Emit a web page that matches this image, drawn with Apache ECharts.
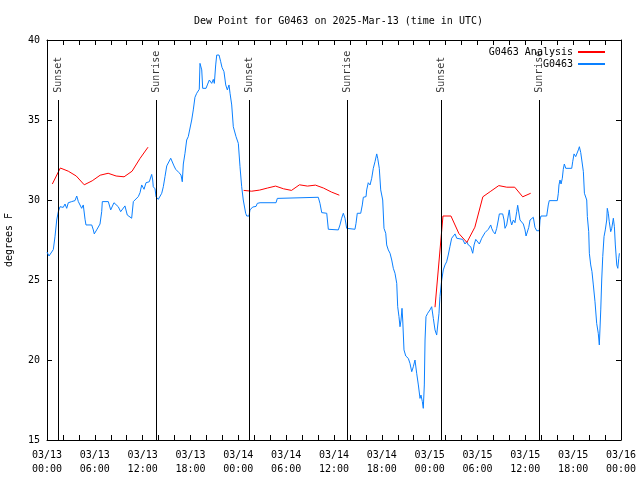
<!DOCTYPE html>
<html><head><meta charset="utf-8">
<script src="https://cdn.jsdelivr.net/npm/echarts@6/dist/echarts.min.js"></script>
<style>html,body{margin:0;padding:0;background:#fff}#c{width:640px;height:480px}</style>
</head><body><div id="c"></div>
<script>
const chartTitle = 'Dew Point for G0463 on 2025-Mar-13 (time in UTC)';
const yAxisName = 'degrees F';
const xTickLabels = ['03/13\n00:00','03/13\n06:00','03/13\n12:00','03/13\n18:00','03/14\n00:00','03/14\n06:00','03/14\n12:00','03/14\n18:00','03/15\n00:00','03/15\n06:00','03/15\n12:00','03/15\n18:00','03/16\n00:00'];
const seriesNames = ['G0463 Analysis', 'G0463'];

// hours since 03/13 00:00 UTC
const obsHours = [0.00,0.25,0.50,0.79,1.00,1.22,1.42,1.63,1.84,2.04,2.26,2.47,2.67,3.10,3.51,3.73,3.93,4.35,4.55,4.77,4.89,5.61,5.81,5.93,6.23,6.65,6.86,6.94,7.69,7.99,8.40,8.94,9.24,9.78,10.07,10.62,10.83,11.45,11.67,11.88,12.17,12.42,12.83,12.92,13.13,13.26,13.33,13.55,13.68,13.96,14.17,14.39,14.59,14.80,15.02,15.22,15.52,15.77,15.93,16.14,16.34,16.56,16.81,16.97,17.10,17.31,17.52,17.72,17.94,18.15,18.35,18.56,18.78,19.10,19.19,19.41,19.53,19.95,20.11,20.36,20.66,20.86,20.99,21.16,21.29,21.58,21.79,21.95,22.20,22.42,22.62,22.83,22.96,23.17,23.37,23.58,23.71,23.87,24.00,24.21,24.42,24.62,24.92,25.05,25.34,25.46,25.80,26.22,26.38,26.72,28.73,28.89,29.14,34.03,34.24,34.46,35.09,35.29,36.54,36.75,36.96,37.17,37.38,37.59,37.67,38.63,38.76,38.92,39.35,39.55,39.68,40.02,40.10,40.30,40.52,40.73,40.93,41.14,41.36,41.48,41.68,41.86,42.11,42.27,42.49,42.61,42.81,43.03,43.24,43.44,43.65,43.87,43.99,44.15,44.28,44.41,44.53,44.62,44.78,45.00,45.32,45.53,45.75,45.95,46.16,46.37,46.58,46.79,46.91,47.08,47.20,47.33,47.42,47.54,47.75,48.04,48.25,48.46,48.67,48.88,49.00,49.17,49.29,49.51,49.71,49.92,50.13,50.33,50.54,50.76,50.97,51.18,51.39,51.59,52.14,52.43,52.65,52.85,53.15,53.40,53.57,53.78,53.98,54.23,54.53,54.73,54.94,55.16,55.36,55.66,55.78,55.98,56.20,56.41,56.61,56.74,57.16,57.33,57.45,57.66,57.87,57.99,58.12,58.29,58.50,58.70,58.92,59.04,59.21,59.33,59.55,59.75,59.96,60.09,60.25,60.43,60.59,60.80,61.00,61.21,61.43,61.75,61.84,61.96,62.68,62.88,63.00,64.01,64.14,64.22,64.35,64.48,64.64,64.76,64.89,65.07,65.82,65.94,66.11,66.32,66.52,66.65,66.78,66.95,67.08,67.28,67.41,67.70,67.78,67.95,68.03,68.20,68.36,68.53,68.74,68.95,69.15,69.28,69.46,69.58,69.71,69.87,70.03,70.21,70.28,70.41,70.53,70.71,70.84,71.04,71.17,71.29,71.47,71.60,71.72,71.80];
const obsDewpoint = [26.75,26.5,26.4,26.9,27.7,28.75,29.27,29.58,29.63,29.54,29.75,29.48,29.83,29.9,29.96,30.25,29.9,29.48,29.69,28.8,28.44,28.44,28.13,27.88,28.13,28.5,29.27,29.9,29.9,29.38,29.83,29.58,29.27,29.63,29.06,28.86,29.9,30.21,30.46,30.94,30.67,31.08,31.14,31.25,31.6,31.25,30.83,30.7,30.2,30.04,30.04,30.42,30.83,31.46,32.13,32.25,32.61,32.61,32.13,31.92,31.98,31.71,31.56,31.14,32.25,32.92,33.75,33.96,34.06,35.0,35.63,36.42,36.67,36.92,38.54,38.13,36.98,36.98,37.19,37.5,37.29,37.54,37.29,38.44,39.06,39.06,38.64,38.29,38.02,37.19,36.88,37.19,36.67,35.94,34.58,34.54,33.96,34.06,33.54,32.08,30.83,30.0,29.17,29.0,29.0,29.38,29.56,29.6,29.79,29.83,29.83,30.1,30.17,30.17,29.79,29.21,29.17,28.17,28.13,28.44,28.86,29.17,28.86,28.23,28.17,28.17,28.54,29.17,29.17,29.69,30.17,30.21,30.63,31.08,30.94,31.36,31.98,32.39,32.88,32.61,31.98,30.63,30.0,28.23,27.92,27.19,26.88,26.67,26.25,25.73,25.42,24.79,23.33,22.71,22.08,22.5,23.23,22.5,20.63,20.25,20.1,19.79,19.27,19.58,20.0,19.17,18.44,17.6,17.81,17.4,16.98,18.44,21.25,22.71,22.92,23.13,23.33,22.6,21.88,21.56,21.67,22.92,23.96,25.0,25.63,25.94,26.14,26.56,27.08,27.61,27.71,27.88,27.61,27.54,27.54,27.25,27.39,27.19,27.08,26.67,27.19,27.54,27.5,27.25,27.61,27.71,27.96,27.96,28.17,28.44,28.23,28.02,27.88,28.23,28.75,29.13,29.13,28.75,28.23,28.44,29.06,29.38,28.75,28.44,28.75,28.58,29.27,29.67,29.63,28.75,28.75,28.5,28.13,27.75,27.75,28.29,28.75,28.75,28.92,28.29,28.08,28.08,28.75,29.0,29.0,29.69,29.96,29.96,30.42,30.94,31.25,31.0,31.36,31.92,32.25,31.98,31.98,32.39,32.88,32.71,32.81,33.13,33.33,32.96,32.5,31.77,30.42,30.0,28.96,28.02,26.67,25.94,25.52,24.69,23.64,22.29,21.67,20.94,23.13,25.0,26.46,27.71,28.13,28.75,29.48,29.17,28.64,28.02,28.23,28.86,28.33,27.19,25.94,25.73,26.36,26.67];

const anaHours1 = [0.67,1.67,2.67,3.67,4.67,5.67,6.67,7.67,8.67,9.67,10.67,11.67,12.67];
const anaVals1  = [31.0,32.0,31.8,31.5,30.95,31.2,31.55,31.67,31.5,31.45,31.8,32.6,33.3];
const anaHours2 = [24.67,25.67,26.67,27.67,28.67,29.67,30.67,31.67,32.67,33.67,34.67,35.67,36.67];
const anaVals2  = [30.6,30.55,30.62,30.75,30.87,30.7,30.6,30.95,30.87,30.93,30.75,30.5,30.3];
const anaHours3 = [48.67,49.67,50.67,51.67,52.67,53.67,54.67,55.67,56.67,57.67,58.67,59.67,60.67];
const anaVals3  = [23.3,29.0,29.0,27.9,27.35,28.3,30.2,30.55,30.9,30.8,30.8,30.2,30.42];

const sunHours = [1.42,13.76,25.38,37.67,49.51,61.76];
const sunNames = ['Sunset','Sunrise','Sunset','Sunrise','Sunset','Sunrise'];
const sunLineTop = 36.25;
const sunLabelBase = 36.7;

const FONT = 'DejaVu Sans Mono';

const obsData = obsHours.map((h, i) => [h, obsDewpoint[i]]);
const anaData = [];
[[anaHours1, anaVals1], [anaHours2, anaVals2], [anaHours3, anaVals3]].forEach(([hs, vs], k) => {
  if (k > 0) anaData.push([hs[0] - 0.5, null]);
  hs.forEach((h, i) => anaData.push([h, vs[i]]));
});

const axisLineStyle = {show: true, onZero: false, lineStyle: {color: '#000', width: 1}};
const tickStyle = {show: true, inside: true, length: 5, lineStyle: {color: '#000', width: 1}};
const minorStyle = {show: true, splitNumber: 3, length: 5, lineStyle: {color: '#000', width: 1}};

const chart = echarts.init(document.getElementById('c'), null, {renderer: 'canvas'});
chart.setOption({
  animation: false,
  backgroundColor: '#fff',
  title: {text: chartTitle, left: 189, top: 11, textStyle: {fontFamily: FONT, fontSize: 10, fontWeight: 'normal', color: '#000'}},
  legend: {
    data: seriesNames, orient: 'vertical', right: 30, top: 42, align: 'right',
    itemWidth: 27, itemHeight: 2, itemGap: 2, icon: 'rect', selectedMode: false,
    textStyle: {fontFamily: FONT, fontSize: 10, color: '#000'}
  },
  grid: {left: 47, right: 19, top: 40, bottom: 40, show: false, containLabel: false, outerBoundsMode: 'none'},
  xAxis: [
    {type: 'value', min: 0, max: 72, interval: 6, position: 'bottom',
     axisLine: axisLineStyle, axisTick: tickStyle, minorTick: minorStyle, splitLine: {show: false},
     axisLabel: {margin: 8, fontFamily: FONT, fontSize: 10, color: '#000', lineHeight: 14,
                 formatter: v => xTickLabels[Math.round(v / 6)]}},
    {type: 'value', min: 0, max: 72, interval: 6, position: 'top',
     axisLine: axisLineStyle, axisTick: tickStyle, minorTick: minorStyle, splitLine: {show: false},
     axisLabel: {show: false}}
  ],
  yAxis: [
    {type: 'value', min: 15, max: 40, interval: 5, position: 'left',
     axisLine: axisLineStyle, axisTick: tickStyle, splitLine: {show: false},
     axisLabel: {margin: 7, fontFamily: FONT, fontSize: 10, color: '#000'},
     name: yAxisName, nameLocation: 'middle', nameGap: 33, nameRotate: 90,
     nameTextStyle: {fontFamily: FONT, fontSize: 10, color: '#000'}},
    {type: 'value', min: 15, max: 40, interval: 5, position: 'right',
     axisLine: axisLineStyle, axisTick: tickStyle, splitLine: {show: false},
     axisLabel: {show: false}}
  ],
  series: [
    {name: seriesNames[0], type: 'line', data: anaData, showSymbol: false, symbol: 'none',
     connectNulls: false, color: '#ff0000', lineStyle: {color: '#ff0000', width: 1}, z: 4, silent: true},
    {name: seriesNames[1], type: 'line', data: obsData, showSymbol: false, symbol: 'none',
     color: '#0a80ff', lineStyle: {color: '#0a80ff', width: 1}, z: 3, silent: true,
     markLine: {silent: true, symbol: ['none', 'none'], animation: false,
       lineStyle: {color: '#000', width: 1, type: 'solid'}, label: {show: false},
       emphasis: {disabled: true},
       data: sunHours.map(h => [{coord: [h, sunLineTop]}, {coord: [h, 15]}])}},
    {name: 'sun', type: 'scatter', symbolSize: 0, silent: true, z: 5,
     data: sunHours.map((h, i) => ({value: [h, sunLabelBase], name: sunNames[i]})),
     label: {show: true, position: 'inside', rotate: 90, align: 'left', verticalAlign: 'middle',
             formatter: p => p.name, fontFamily: FONT, fontSize: 10, color: '#000'}}
  ]
});
</script></body></html>
